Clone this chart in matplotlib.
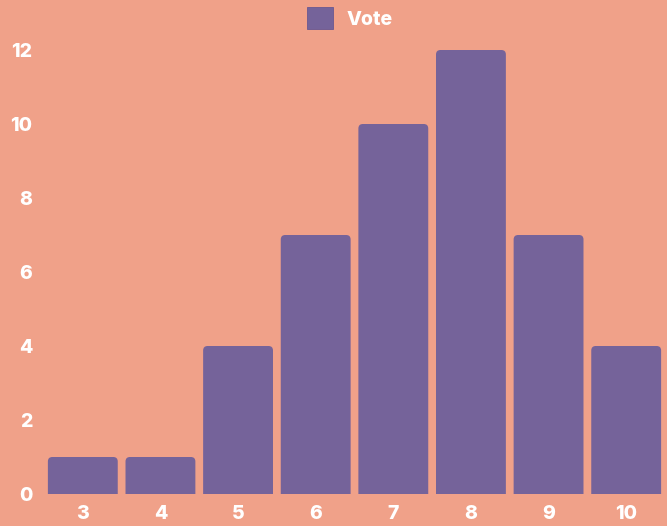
import matplotlib
matplotlib.use("Agg")
import matplotlib.pyplot as plt
from matplotlib.path import Path
from matplotlib.patches import PathPatch, Patch
from matplotlib.transforms import IdentityTransform

categories = ["3", "4", "5", "6", "7", "8", "9", "10"]
votes = [1, 1, 4, 7, 10, 12, 7, 4]
y_ticks = [0, 2, 4, 6, 8, 10, 12]

BG = "#F0A189"
BAR = "#75639A"
WEIGHT = 800

plt.rcParams['font.family'] = ['Inter', 'DejaVu Sans']

W, H = 667, 526
fig = plt.figure(figsize=(W / 100, H / 100), dpi=100, facecolor=BG)
ax = fig.add_axes([44 / W, (526 - 494) / H, (665 - 44) / W, (494 - 50) / H])
ax.set_facecolor(BG)

x = range(len(categories))
bars = ax.bar(x, votes, width=0.9, color=BAR)
ax.set_xlim(-0.5, len(categories) - 0.5)
ax.set_ylim(0, 12)
ax.set_xticks(list(x))
ax.set_xticklabels(categories)
ax.set_yticks(y_ticks)
for s in ax.spines.values():
    s.set_visible(False)
ax.tick_params(length=0, colors="white", labelsize=14)
ax.tick_params(axis="y", pad=8.5)
ax.tick_params(axis="x", pad=8)
for lab in ax.get_xticklabels() + ax.get_yticklabels():
    lab.set_fontweight(WEIGHT)

fig.canvas.draw()
r = 4.5
for b in bars:
    (x0, y0), (x1, y1) = ax.transData.transform([(b.get_x(), 0), (b.get_x() + b.get_width(), b.get_height())])
    b.set_visible(False)
    verts = [(x0, y0), (x0, y1 - r), (x0, y1), (x0 + r, y1), (x1 - r, y1), (x1, y1), (x1, y1 - r), (x1, y0), (x0, y0)]
    codes = [Path.MOVETO, Path.LINETO, Path.CURVE3, Path.CURVE3, Path.LINETO, Path.CURVE3, Path.CURVE3, Path.LINETO, Path.CLOSEPOLY]
    p = PathPatch(Path(verts, codes), facecolor=BAR, edgecolor="none", transform=IdentityTransform())
    fig.patches.append(p)
    p.set_figure(fig)

leg = fig.legend(handles=[Patch(facecolor=BAR, edgecolor="#6a5890", linewidth=0.6, label="Vote")],
                 loc="center", bbox_to_anchor=(350 / W, 1 - 18 / H), frameon=False,
                 handlelength=1.3, handleheight=1.3, handletextpad=0.7,
                 prop={"weight": WEIGHT, "size": 14})
for t in leg.get_texts():
    t.set_color("white")

fig.savefig("out.png", dpi=100, facecolor=BG)
